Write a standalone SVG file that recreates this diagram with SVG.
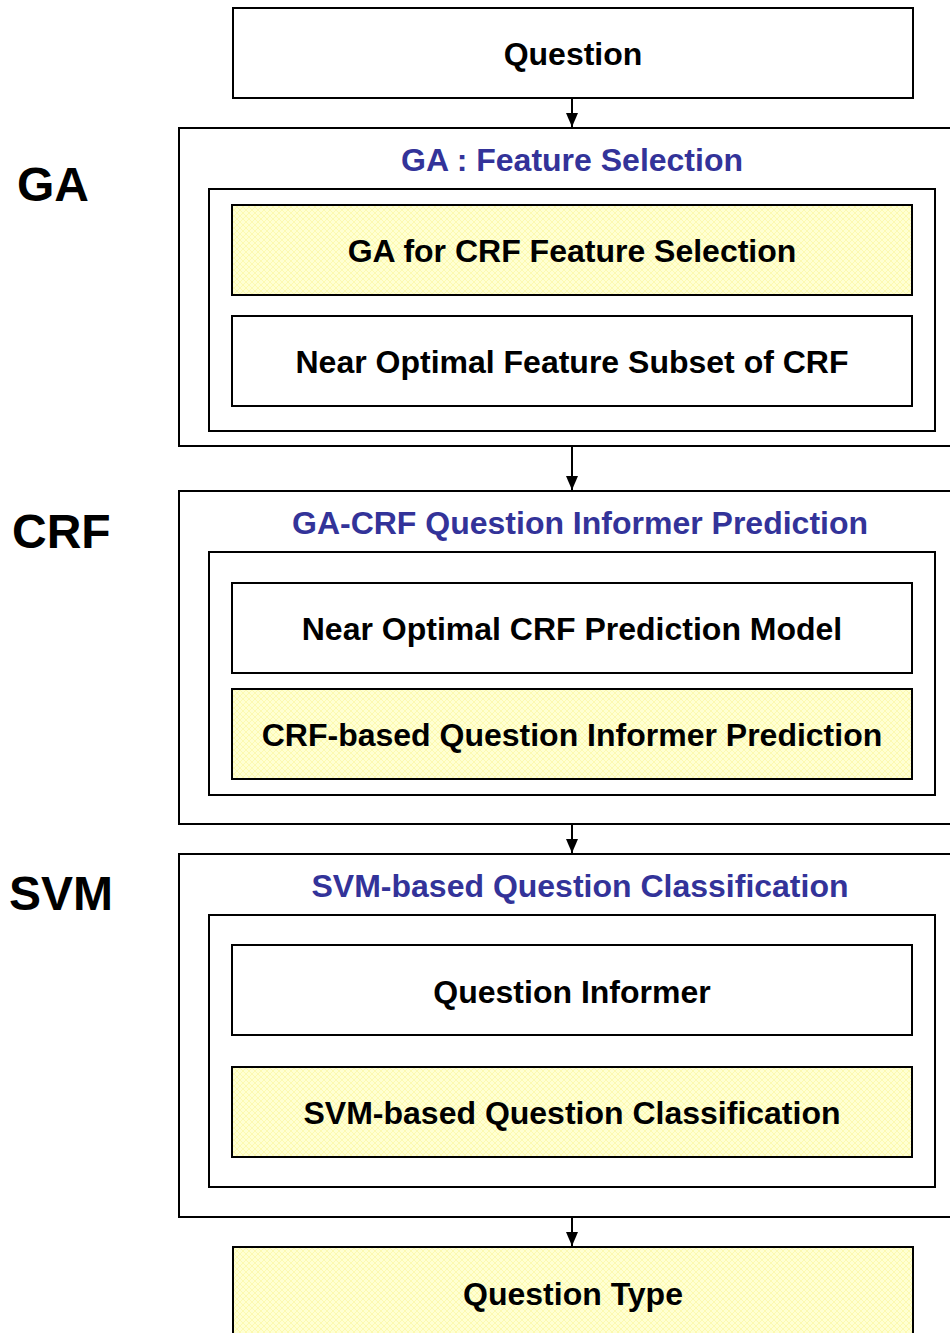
<svg xmlns="http://www.w3.org/2000/svg" width="950" height="1333" viewBox="0 0 950 1333">
<style>
.box{fill:#ffffff;stroke:#000;stroke-width:2}
.ybox{fill:url(#hatch);stroke:#000;stroke-width:2}
.t{font-family:"Liberation Sans",Arial,sans-serif;font-weight:bold;font-size:32px;text-anchor:middle;fill:#000}
.h{font-family:"Liberation Sans",Arial,sans-serif;font-weight:bold;font-size:32px;text-anchor:middle;fill:#333399}
.lab{font-family:"Liberation Sans",Arial,sans-serif;font-weight:bold;font-size:48px;fill:#000}
.c{stroke:#000;stroke-width:2;fill:none;marker-end:url(#arr)}
</style>
<defs>
<pattern id="hatch" width="6" height="6" patternUnits="userSpaceOnUse">
<rect width="6" height="6" fill="#ffffd2"/>
<path d="M0 0L6 6M6 0L0 6" stroke="#fbf7a8" stroke-width="0.8"/>
</pattern>
<marker id="arr" markerWidth="14" markerHeight="12" refX="14" refY="6" orient="auto" markerUnits="userSpaceOnUse" viewBox="0 0 14 12">
<path d="M0 0L14 6L0 12Z" fill="#000"/>
</marker>
</defs>
<g id="labels">
<text class="lab" x="17" y="201">GA</text>
<text class="lab" x="12" y="548">CRF</text>
<text class="lab" x="9" y="910">SVM</text>
</g>
<g id="question"><rect class="box" x="233" y="8" width="680" height="90"/><text class="t" x="573" y="65">Question</text></g>
<g id="ga">
<rect class="box" x="179" y="128" width="790" height="318"/>
<text class="h" x="572" y="171">GA : Feature Selection</text>
<rect class="box" x="209" y="189" width="726" height="242"/>
</g>
<g id="ga-select"><rect class="ybox" x="232" y="205" width="680" height="90"/><text class="t" x="572" y="262">GA for CRF Feature Selection</text></g>
<g id="ga-subset"><rect class="box" x="232" y="316" width="680" height="90"/><text class="t" x="572" y="373">Near Optimal Feature Subset of CRF</text></g>
<g id="crf">
<rect class="box" x="179" y="491" width="790" height="333"/>
<text class="h" x="580" y="534">GA-CRF Question Informer Prediction</text>
<rect class="box" x="209" y="552" width="726" height="243"/>
</g>
<g id="crf-model"><rect class="box" x="232" y="583" width="680" height="90"/><text class="t" x="572" y="640">Near Optimal CRF Prediction Model</text></g>
<g id="crf-pred"><rect class="ybox" x="232" y="689" width="680" height="90"/><text class="t" x="572" y="746">CRF-based Question Informer Prediction</text></g>
<g id="svm">
<rect class="box" x="179" y="854" width="790" height="363"/>
<text class="h" x="580" y="897">SVM-based Question Classification</text>
<rect class="box" x="209" y="915" width="726" height="272"/>
</g>
<g id="svm-informer"><rect class="box" x="232" y="945" width="680" height="90"/><text class="t" x="572" y="1003">Question Informer</text></g>
<g id="svm-class"><rect class="ybox" x="232" y="1067" width="680" height="90"/><text class="t" x="572" y="1124">SVM-based Question Classification</text></g>
<g id="qtype"><rect class="ybox" x="233" y="1247" width="680" height="100"/><text class="t" x="573" y="1305">Question Type</text></g>
<g id="connectors">
<line class="c" x1="572" y1="99" x2="572" y2="127"/>
<line class="c" x1="572" y1="447" x2="572" y2="490"/>
<line class="c" x1="572" y1="825" x2="572" y2="853"/>
<line class="c" x1="572" y1="1218" x2="572" y2="1246"/>
</g>
</svg>
